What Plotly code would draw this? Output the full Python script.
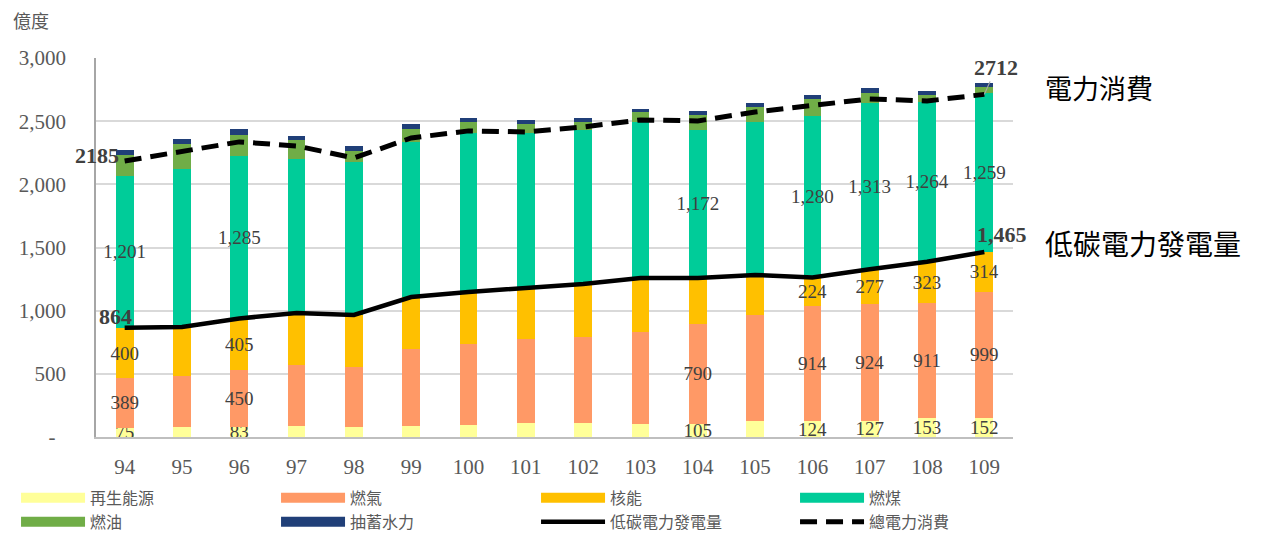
import plotly.graph_objects as go

years = ["94", "95", "96", "97", "98", "99", "100", "101", "102", "103",
         "104", "105", "106", "107", "108", "109"]
renewable = [75, 79, 83, 87, 79, 87, 95, 111, 111, 103, 105, 127, 124, 127, 153, 152]
gas = [389, 404, 450, 483, 475, 610, 641, 665, 681, 728, 790, 839, 914, 924, 911, 999]
nuclear = [400, 388, 405, 412, 412, 411, 412, 404, 419, 428, 364, 317, 224, 277, 323, 314]
coal = [1201, 1251, 1285, 1219, 1211, 1228, 1259, 1227, 1220, 1235, 1172, 1211, 1280, 1313, 1264, 1259]
oil = [168, 198, 166, 151, 87, 103, 87, 71, 63, 79, 115, 119, 134, 83, 57, 47]
pumped_hydro = [39, 39, 47, 31, 40, 39, 32, 32, 32, 24, 32, 31, 32, 39, 31, 32]
low_carbon = [864, 871, 938, 982, 966, 1108, 1148, 1180, 1211, 1259, 1259, 1283, 1262, 1328, 1387, 1465]
consumption = [2185, 2257, 2336, 2304, 2209, 2367, 2423, 2415, 2454, 2510, 2502, 2573, 2629, 2676, 2660, 2712]

# which years carry segment labels
label_years_main = ["94", "96", "104", "106", "107", "108", "109"]
label_years_nuclear = ["94", "96", "106", "107", "108", "109"]

y_tickvals = [0, 500, 1000, 1500, 2000, 2500, 3000]
y_ticktext = ["-  ", "500", "1,000", "1,500", "2,000", "2,500", "3,000"]

names = ["再生能源", "燃氣", "核能", "燃煤", "燃油", "抽蓄水力"]
colors = ["#FFFF99", "#FF9966", "#FFC000", "#00CC99", "#70AD47", "#203F78"]
series = [renewable, gas, nuclear, coal, oil, pumped_hydro]
label_sets = [label_years_main, label_years_main, label_years_nuclear, label_years_main, [], []]
# legend box per entry (4th legend column is a separate legend box)
legend_ids = ["legend", "legend", "legend", "legend2", "legend", "legend"]

SERIF = "Times New Roman, Liberation Serif, serif"
CJK = "Noto Sans CJK TC, sans-serif"

fig = go.Figure()
for name, color, vals, lbl in zip(names, colors, series, label_sets):
    txt = [f"{v:,}" if yr in lbl else "" for yr, v in zip(years, vals)]
    fig.add_trace(go.Bar(
        x=years, y=vals, name=name, marker=dict(color=color, line=dict(width=0)),
        width=0.31, text=txt, textposition="inside", insidetextanchor="middle",
        textangle=0, constraintext="none",
        textfont=dict(family=SERIF, size=19, color="#404040"),
        showlegend=False, hoverinfo="skip",
    ))

# legend swatches for bars (wide strips like the reference)
for name, color, lg in zip(names, colors, legend_ids):
    fig.add_trace(go.Scatter(
        x=[None], y=[None], mode="lines", name=name, legend=lg,
        line=dict(color=color, width=10), showlegend=True, hoverinfo="skip",
    ))

fig.add_trace(go.Scatter(
    x=years, y=low_carbon, mode="lines", name="低碳電力發電量", legend="legend",
    line=dict(color="black", width=4.5), hoverinfo="skip",
))
fig.add_trace(go.Scatter(
    x=years, y=consumption, mode="lines", name="總電力消費", legend="legend2",
    line=dict(color="black", width=5, dash="17px,9px"), hoverinfo="skip",
))

first, last = 0, len(years) - 1
bold = dict(family=SERIF, size=22, color="#404040")
fig.add_annotation(x=first, y=consumption[first], text=f"<b>{consumption[first]}</b>",
                   showarrow=False, xanchor="right", yanchor="middle", xshift=-4, yshift=5, font=bold)
fig.add_annotation(x=first, y=low_carbon[first], text=f"<b>{low_carbon[first]}</b>",
                   showarrow=False, xanchor="right", yanchor="middle", xshift=9, yshift=11, font=bold)
fig.add_annotation(x=last, y=low_carbon[last], text=f"<b>{low_carbon[last]:,}</b>",
                   showarrow=False, xanchor="center", yanchor="middle", xshift=18, yshift=17, font=bold)
fig.add_annotation(x=last, y=consumption[last], text=f"<b>{consumption[last]}</b>",
                   showarrow=True, arrowhead=0, arrowwidth=1.2, arrowcolor="#a6a6a6",
                   ax=12, ay=-27, font=bold)

# right-hand series captions
fig.add_annotation(xref="paper", x=1, y=consumption[last], text="電力消費", showarrow=False,
                   xanchor="left", yanchor="middle", xshift=30, yshift=7,
                   font=dict(family=CJK, size=27, color="black"))
fig.add_annotation(xref="paper", x=1, y=low_carbon[last], text="低碳電力發電量", showarrow=False,
                   xanchor="left", yanchor="middle", xshift=30, yshift=9,
                   font=dict(family=CJK, size=28, color="black"))
# unit
fig.add_annotation(xref="paper", yref="paper", x=0, y=1, text="億度", showarrow=False,
                   xanchor="left", yanchor="middle", xshift=-85, yshift=38,
                   font=dict(family=CJK, size=18, color="#595959"))

legend_common = dict(
    xref="paper", yref="paper", y=-0.116, yanchor="top", xanchor="left",
    itemwidth=64, font=dict(family=CJK, size=16, color="#595959"),
    traceorder="normal", tracegroupgap=0, bgcolor="rgba(0,0,0,0)",
)

fig.update_layout(
    width=1277, height=533,
    margin=dict(l=96, r=264, t=58, b=96, autoexpand=False),
    paper_bgcolor="white", plot_bgcolor="white",
    barmode="stack",
    font=dict(family=SERIF, color="#595959"),
    legend=dict(orientation="h", x=-0.0872, entrywidth=181, entrywidthmode="pixels",
                **legend_common),
    legend2=dict(orientation="v", x=0.7623, **legend_common),
    xaxis=dict(
        type="category", range=[-0.5, len(years) - 0.5],
        showgrid=False, showline=True, linecolor="#bfbfbf", linewidth=1.5,
        ticks="", tickfont=dict(family=SERIF, size=21, color="#595959"),
        ticklabelstandoff=10, fixedrange=True,
    ),
    yaxis=dict(
        range=[0, 3000], tickvals=y_tickvals, ticktext=y_ticktext,
        showgrid=True, gridcolor="#d9d9d9", gridwidth=1.5,
        showline=True, linecolor="#a6a6a6", linewidth=1.5, zeroline=False,
        ticks="", tickfont=dict(family=SERIF, size=21, color="#595959"),
        ticklabelstandoff=24, fixedrange=True,
    ),
)

fig.write_html("out.html", config={"displayModeBar": False})
